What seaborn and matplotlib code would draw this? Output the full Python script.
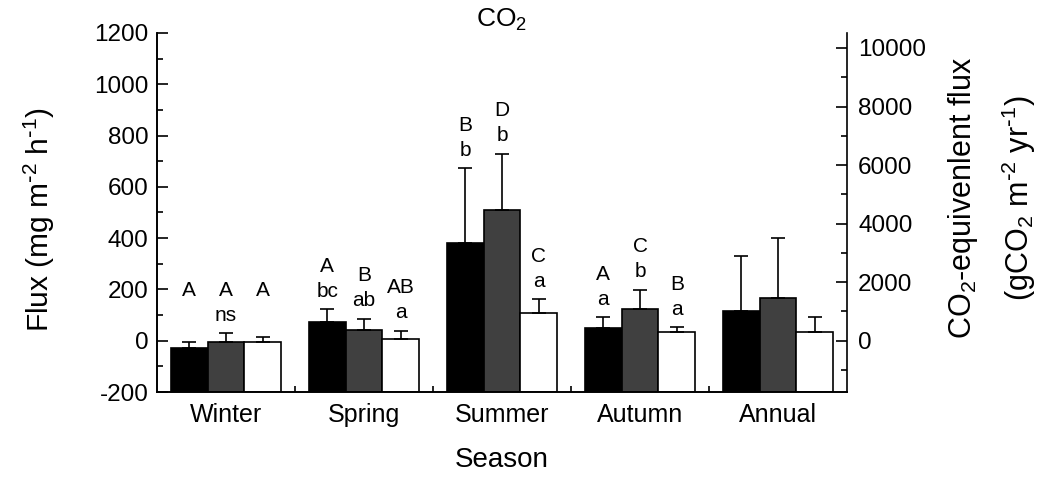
import pandas as pd
import seaborn as sns
import matplotlib.pyplot as plt
from matplotlib.ticker import MultipleLocator

# data
seasons = ['Winter', 'Spring', 'Summer', 'Autumn', 'Annual']
treatments = ['T1', 'T2', 'T3']
flux_t1 = [-30, 72, 381, 48, 116]
flux_t2 = [-6, 43, 511, 124, 168]
flux_t3 = [-6, 5, 107, 34, 34]
err_t1 = [24, 50, 292, 44, 215]
err_t2 = [35, 43, 217, 75, 234]
err_t3 = [22, 34, 55, 19, 58]
# (upper letter, lower letter) per bar
labels_t1 = [('A', ''), ('A', 'bc'), ('B', 'b'), ('A', 'a'), ('', '')]
labels_t2 = [('A', 'ns'), ('B', 'ab'), ('D', 'b'), ('C', 'b'), ('', '')]
labels_t3 = [('A', ''), ('AB', 'a'), ('C', 'a'), ('B', 'a'), ('', '')]
conv = 24 * 365 / 1000  # mg m-2 h-1 -> g m-2 yr-1
ymin, ymax = -200, 1200

means = [flux_t1, flux_t2, flux_t3]
errs = [err_t1, err_t2, err_t3]
labels = [labels_t1, labels_t2, labels_t3]

df = pd.DataFrame({
    'season': seasons * 3,
    'treatment': [t for t in treatments for _ in seasons],
    'flux': flux_t1 + flux_t2 + flux_t3,
})

sns.set_style('ticks')
plt.rcParams['font.family'] = ['Liberation Sans', 'DejaVu Sans']
plt.rcParams['mathtext.default'] = 'regular'
plt.rcParams['axes.unicode_minus'] = False
plt.rcParams['axes.linewidth'] = 1.2
for k in ['text.color', 'axes.labelcolor', 'axes.edgecolor',
          'xtick.color', 'ytick.color']:
    plt.rcParams[k] = 'black'

fig = plt.figure(figsize=(10.44, 4.83), dpi=100)
ax = fig.add_axes([0.1504, 0.1884, 0.6609, 0.7433])

sns.barplot(data=df, x='season', y='flux', hue='treatment', order=seasons,
            palette=['black', '#404040', 'white'], edgecolor='black',
            linewidth=1.2, errorbar=None, width=0.8, gap=0, legend=False, ax=ax)

# bars rise from the bottom of the axis (Origin style), one-sided error bars
bar_conts = list(ax.containers)
for j, cont in enumerate(bar_conts):
    for i, bar in enumerate(cont):
        bar.set_y(ymin)
        bar.set_height(means[j][i] - ymin)
        x = bar.get_x() + bar.get_width() / 2
        m = means[j][i]
        e = errs[j][i]
        ax.errorbar(x, m, yerr=[[0], [e]], fmt='none', ecolor='black',
                    elinewidth=1.2, capsize=5, capthick=1.2)
        if seasons[i] == 'Winter':
            base = max(means[k][i] + errs[k][i] for k in range(3))
        else:
            base = m + e
        up, low = labels[j][i]
        ax.annotate(low, (x, base), xytext=(0, 13), textcoords='offset points',
                    ha='center', va='center', fontsize=15)
        ax.annotate(up, (x, base), xytext=(0, 31), textcoords='offset points',
                    ha='center', va='center', fontsize=15)

ax.set_xlim(-0.5, 4.5)
ax.set_ylim(ymin, ymax)
ax.yaxis.set_major_locator(MultipleLocator(200))
ax.yaxis.set_minor_locator(MultipleLocator(100))
ax.set_xticks(range(5), seasons)
ax.set_xticks([0.5, 1.5, 2.5, 3.5], minor=True)
ax.tick_params(axis='both', which='both', direction='in', width=1.2)
ax.tick_params(axis='y', which='major', length=8, labelsize=17.5, pad=6)
ax.tick_params(axis='y', which='minor', length=4)
ax.tick_params(axis='x', which='both', length=4, labelsize=18, pad=8)
ax.spines['top'].set_visible(False)
ax.spines['right'].set_visible(False)
ax.set_xlabel('Season', fontsize=20, labelpad=14)
ax.set_ylabel(r'Flux (mg m$^{\text{-}2}$ h$^{\text{-}1}$)', fontsize=21.5, labelpad=27)
ax.yaxis.label.set_y(0.48)
ax.text(0.5, 1.0, 'CO$_2$', transform=ax.transAxes, ha='center', va='bottom',
        fontsize=19)

ax2 = ax.twinx()
ax2.set_ylim(ymin * conv, ymax * conv)
ax2.set_yticks(range(0, 10001, 2000))
ax2.yaxis.set_minor_locator(MultipleLocator(1000))
ax2.tick_params(axis='y', which='both', direction='in', width=1.2)
ax2.tick_params(axis='y', which='major', length=8, labelsize=17.5, pad=8)
ax2.tick_params(axis='y', which='minor', length=4)
ax2.spines['top'].set_visible(False)
ax2.set_ylabel('CO$_2$-equivenlent flux\n'
               r'(gCO$_2$ m$^{\text{-}2}$ yr$^{\text{-}1}$)',
               fontsize=22, labelpad=14, linespacing=1.7)
ax2.yaxis.label.set_y(0.54)

fig.savefig('out.png', dpi=100)
